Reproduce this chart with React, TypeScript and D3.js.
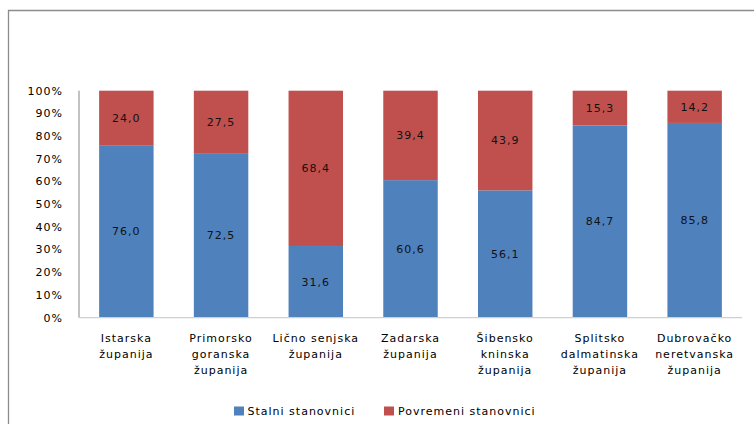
import React from "react";
import * as d3 from "d3";

const categories: string[][] = [
  ["Istarska", "županija"],
  ["Primorsko", "goranska", "županija"],
  ["Lično senjska", "županija"],
  ["Zadarska", "županija"],
  ["Šibensko", "kninska", "županija"],
  ["Splitsko", "dalmatinska", "županija"],
  ["Dubrovačko", "neretvanska", "županija"],
];
const stalni = [76.0, 72.5, 31.6, 60.6, 56.1, 84.7, 85.8];
const povremeni = [24.0, 27.5, 68.4, 39.4, 43.9, 15.3, 14.2];
const yTicks = [0, 10, 20, 30, 40, 50, 60, 70, 80, 90, 100];
const seriesNames = ["Stalni  stanovnici", "Povremeni stanovnici"];
const colors = ["#4F81BD", "#C0504D"];

const W = 754;
const H = 424;
const FONT = "'DejaVu Sans', sans-serif";

export default function App() {
  const keys = categories.map((c) => c.join(" "));
  const x = d3
    .scaleBand<string>()
    .domain(keys)
    .range([79, 742])
    .paddingInner(0.425)
    .paddingOuter(0.2125);
  const y = d3.scaleLinear().domain([0, 100]).range([317.7, 90.7]);
  const fmt = (v: number) => v.toFixed(1).replace(".", ",");

  const stackData = keys.map((k, i) => ({ key: k, s: stalni[i], p: povremeni[i] }));
  const stack = d3.stack<any>().keys(["s", "p"])(stackData);

  return (
    <svg
      width={W}
      height={H}
      style={{ position: "absolute", left: 0, top: 0, background: "#fff" }}
      fontFamily={FONT}
    >
      <rect x={0} y={0} width={W} height={H} fill="#fff" />
      {/* outer border */}
      <path d={`M8.5,${H} V10.5 H${W}`} fill="none" stroke="#8c8c8c" strokeWidth={1.3} />

      {/* y axis */}
      <line x1={79} x2={79} y1={y(100)} y2={y(0)} stroke="#868686" strokeWidth={1} />
      {yTicks.map((t) => (
        <text
          key={t}
          x={63}
          y={y(t)}
          dy="0.35em"
          textAnchor="end"
          fontSize={11}
          letterSpacing={1}
          fill="#000"
        >
          {t + "%"}
        </text>
      ))}

      {/* bars */}
      {stack.map((layer, li) =>
        layer.map((d, i) => (
          <rect
            key={`${li}-${i}`}
            x={x(keys[i])}
            y={y(d[1])}
            width={x.bandwidth()}
            height={y(d[0]) - y(d[1])}
            fill={colors[li]}
          />
        ))
      )}
      {/* value labels */}
      {stack.map((layer, li) =>
        layer.map((d, i) => (
          <text
            key={`l${li}-${i}`}
            x={(x(keys[i]) as number) + x.bandwidth() / 2}
            y={y((d[0] + d[1]) / 2)}
            dy="0.35em"
            textAnchor="middle"
            fontSize={11}
            letterSpacing={1}
            fill="#111"
          >
            {fmt(li === 0 ? stalni[i] : povremeni[i])}
          </text>
        ))
      )}

      {/* x axis baseline */}
      <line x1={79} x2={742} y1={y(0)} y2={y(0)} stroke="#d0d0d0" strokeWidth={1.2} />

      {/* category labels */}
      {categories.map((lines, i) => (
        <text
          key={keys[i]}
          x={(x(keys[i]) as number) + x.bandwidth() / 2}
          y={342}
          textAnchor="middle"
          fontSize={11}
          letterSpacing={1}
          fill="#000"
        >
          {lines.map((ln, j) => (
            <tspan key={j} x={(x(keys[i]) as number) + x.bandwidth() / 2} dy={j === 0 ? 0 : 16}>
              {ln}
            </tspan>
          ))}
        </text>
      ))}

      {/* legend */}
      {[
        { sx: 234, tx: 247.5 },
        { sx: 384, tx: 398 },
      ].map((l, i) => (
        <g key={i}>
          <rect x={l.sx} y={406.5} width={10} height={9} fill={colors[i]} />
          <text x={l.tx} y={411} dy="0.35em" fontSize={11} letterSpacing={1} fill="#000">
            {seriesNames[i]}
          </text>
        </g>
      ))}
    </svg>
  );
}
